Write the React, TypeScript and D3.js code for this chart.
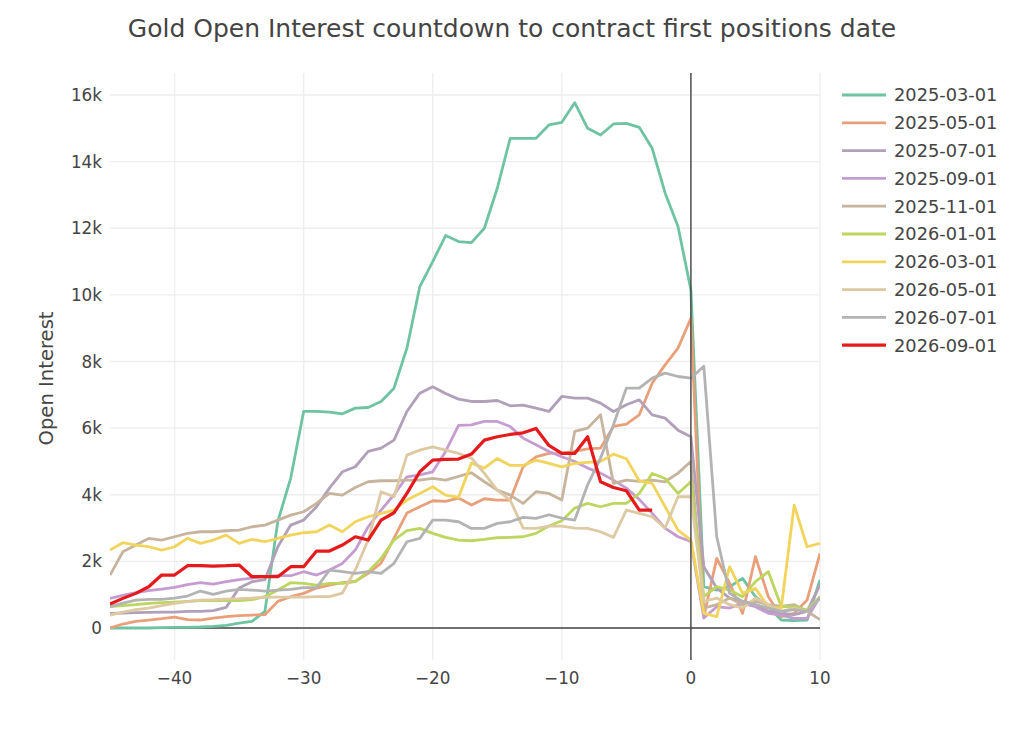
import React from "react";
import * as d3 from "d3";

const days: number[] = d3.range(-45, 11);

const seriesNames = [
  "2025-03-01", "2025-05-01", "2025-07-01", "2025-09-01", "2025-11-01",
  "2026-01-01", "2026-03-01", "2026-05-01", "2026-07-01", "2026-09-01",
];

const seriesColors = [
  "#6ec4a2", "#e9a07a", "#b0a0b8", "#c59ccf", "#c6b49d",
  "#bcd65f", "#f1d45c", "#ddc9a2", "#b3b3b3", "#e41a1c",
];

// values in thousands, days -45 .. 10
const s2025_03 = [
  0, 0, 0, 0, 0.01, 0.02, 0.02, 0.03, 0.05, 0.08, 0.15, 0.2, 0.5, 3.2, 4.5, 6.5, 6.5, 6.48, 6.43, 6.6,
  6.62, 6.8, 7.2, 8.4, 10.25, 11.0, 11.78, 11.6, 11.57, 12.0, 13.2, 14.7, 14.7, 14.7, 15.1, 15.18, 15.77, 15.0, 14.8, 15.13,
  15.15, 15.03, 14.4, 13.06, 12.05, 10.15, 1.24, 1.14, 1.24, 1.49, 0.94, 0.64, 0.24, 0.22, 0.24, 1.44,
];
const s2025_05 = [
  0.0, 0.12, 0.2, 0.24, 0.28, 0.33, 0.25, 0.24, 0.3, 0.34, 0.37, 0.39, 0.4, 0.8, 0.94, 1.04, 1.2, 1.29, 1.36, 1.4,
  1.64, 1.95, 2.7, 3.45, 3.64, 3.82, 3.8, 3.9, 3.69, 3.88, 3.84, 3.84, 4.84, 5.14, 5.24, 5.25, 5.3, 5.38, 5.4, 6.05,
  6.12, 6.4, 7.35, 7.9, 8.4, 9.3, 0.34, 2.09, 1.34, 0.44, 2.14, 0.94, 0.34, 0.44, 0.84, 2.24,
];
const s2025_07 = [
  0.44, 0.45, 0.46, 0.47, 0.48, 0.48, 0.5, 0.5, 0.52, 0.62, 1.2, 1.39, 1.45, 2.44, 3.09, 3.24, 3.64, 4.2, 4.69, 4.84,
  5.3, 5.4, 5.64, 6.5, 7.05, 7.24, 7.04, 6.87, 6.8, 6.8, 6.83, 6.67, 6.69, 6.6, 6.5, 6.95, 6.9, 6.9, 6.75, 6.5,
  6.7, 6.85, 6.4, 6.3, 5.94, 5.74, 1.84, 1.2, 0.9, 0.8, 0.7, 0.5, 0.45, 0.4, 0.5, 1.3,
];
const s2025_09 = [
  0.89, 0.98, 1.06, 1.12, 1.17, 1.22, 1.3, 1.36, 1.32, 1.39, 1.45, 1.5, 1.55, 1.57, 1.57, 1.69, 1.59, 1.74, 1.94, 2.34,
  3.04, 3.54, 4.0, 4.54, 4.6, 4.69, 5.3, 6.08, 6.1, 6.2, 6.2, 6.05, 5.7, 5.5, 5.3, 5.14, 5.0, 4.8, 4.65, 4.44,
  4.2, 3.86, 3.44, 3.0, 2.74, 2.6, 0.3, 0.64, 0.6, 0.74, 0.64, 0.44, 0.39, 0.29, 0.29, 0.94,
];
const s2025_11 = [
  1.59, 2.29, 2.49, 2.69, 2.64, 2.74, 2.84, 2.89, 2.89, 2.92, 2.94, 3.04, 3.09, 3.24, 3.39, 3.49, 3.74, 4.04, 3.99, 4.22,
  4.39, 4.42, 4.42, 4.44, 4.44, 4.49, 4.44, 4.55, 4.66, 4.39, 4.14, 3.99, 3.74, 4.09, 4.04, 3.84, 5.9, 6.0, 6.4, 4.34,
  4.44, 4.4, 4.44, 4.39, 4.65, 5.0, 0.6, 0.7, 0.9, 0.7, 0.8, 0.7, 0.65, 0.7, 0.5, 0.25,
];
const s2026_01 = [
  0.64, 0.67, 0.7, 0.74, 0.76, 0.78, 0.8, 0.82, 0.82, 0.82, 0.82, 0.85, 0.94, 1.14, 1.36, 1.34, 1.29, 1.34, 1.34, 1.39,
  1.69, 2.09, 2.64, 2.92, 2.99, 2.84, 2.72, 2.64, 2.62, 2.66, 2.71, 2.72, 2.74, 2.84, 3.06, 3.22, 3.6, 3.74, 3.64, 3.74,
  3.74, 4.04, 4.64, 4.49, 4.04, 4.39, 0.94, 1.24, 1.14, 0.94, 1.39, 1.69, 0.64, 0.64, 0.54, 0.94,
];
const s2026_03 = [
  2.34, 2.56, 2.49, 2.44, 2.34, 2.44, 2.69, 2.54, 2.64, 2.79, 2.54, 2.66, 2.59, 2.69, 2.79, 2.86, 2.89, 3.09, 2.89, 3.19,
  3.34, 3.44, 3.54, 3.84, 4.04, 4.24, 3.99, 3.92, 4.95, 4.8, 5.09, 4.88, 4.88, 5.04, 4.94, 4.84, 4.94, 4.97, 5.0, 5.22,
  5.08, 4.42, 4.34, 3.64, 2.94, 2.64, 0.44, 0.34, 1.84, 1.04, 1.19, 0.64, 0.6, 3.69, 2.44, 2.54,
];
const s2026_05 = [
  0.39, 0.48, 0.55, 0.6, 0.67, 0.74, 0.79, 0.84, 0.85, 0.87, 0.88, 0.9, 0.92, 0.93, 0.93, 0.93, 0.94, 0.94, 1.05, 1.74,
  2.64, 4.09, 3.94, 5.19, 5.34, 5.44, 5.34, 5.24, 5.1, 4.64, 4.14, 3.84, 3.0, 2.99, 3.06, 3.06, 3.0, 2.99, 2.89, 2.72,
  3.54, 3.44, 3.34, 3.0, 3.94, 3.94, 0.8, 0.9, 0.7, 0.6, 0.9, 0.7, 0.5, 0.6, 0.5, 0.9,
];
const s2026_07 = [
  0.64, 0.75, 0.84, 0.86, 0.86, 0.9, 0.96, 1.11, 1.01, 1.11, 1.16, 1.14, 1.11, 1.14, 1.16, 1.21, 1.21, 1.74, 1.69, 1.64,
  1.69, 1.64, 1.94, 2.59, 2.69, 3.24, 3.24, 3.19, 2.99, 2.99, 3.14, 3.19, 3.32, 3.29, 3.4, 3.3, 3.24, 4.3, 5.1, 6.1,
  7.2, 7.2, 7.5, 7.65, 7.55, 7.5, 7.86, 2.74, 1.04, 0.8, 0.7, 0.6, 0.5, 0.55, 0.5, 0.9,
];
const s2026_09: (number | null)[] = [
  0.72, 0.89, 1.04, 1.24, 1.59, 1.59, 1.87, 1.87, 1.86, 1.87, 1.89, 1.54, 1.54, 1.54, 1.84, 1.84, 2.31, 2.31, 2.49, 2.74,
  2.64, 3.24, 3.46, 4.04, 4.69, 5.04, 5.06, 5.07, 5.22, 5.64, 5.74, 5.81, 5.86, 5.99, 5.48, 5.24, 5.24, 5.74, 4.39, 4.22,
  4.12, 3.54, 3.54, null, null, null, null, null, null, null, null, null, null, null, null, null,
];

const seriesValues: (number | null)[][] = [
  s2025_03, s2025_05, s2025_07, s2025_09, s2025_11, s2026_01, s2026_03, s2026_05, s2026_07, s2026_09,
];

const xTicks = [-40, -30, -20, -10, 0, 10];
const yTicks = [0, 2, 4, 6, 8, 10, 12, 14, 16];

const FONT = "'DejaVu Sans', Verdana, sans-serif";

export default function App() {
  const W = 1024;
  const H = 731;
  const left = 110, right = 820, top = 73, bottom = 660;
  const x = d3.scaleLinear().domain([-45, 10]).range([left, right]);
  const y = d3.scaleLinear().domain([-0.96, 16.66]).range([bottom, top]);

  const line = d3
    .line<number | null>()
    .defined((d) => d !== null)
    .x((_, i) => x(days[i]))
    .y((d) => y(d as number));

  return (
    <svg width={W} height={H} style={{ position: "absolute", left: 0, top: 0, background: "#fff" }} fontFamily={FONT}>
      <rect x={0} y={0} width={W} height={H} fill="#fff" />
      {xTicks.map((t) => (
        <line key={"gx" + t} x1={x(t)} x2={x(t)} y1={top} y2={bottom} stroke="#eee" strokeWidth={1.4} />
      ))}
      {yTicks.map((t) => (
        <line key={"gy" + t} x1={left} x2={right} y1={y(t)} y2={y(t)} stroke="#eee" strokeWidth={1.4} />
      ))}
      <line x1={left} x2={right} y1={y(0)} y2={y(0)} stroke="#444" strokeWidth={1.4} />
      <clipPath id="plotclip">
        <rect x={left} y={top} width={right - left} height={bottom - top} />
      </clipPath>
      <g clipPath="url(#plotclip)">
        {seriesValues.map((vals, i) => (
          <path
            key={seriesNames[i]}
            d={line(vals) || ""}
            fill="none"
            stroke={seriesColors[i]}
            strokeWidth={i === 9 ? 3.2 : 2.8}
            strokeLinejoin="round"
          />
        ))}
      </g>
      <line x1={x(0)} x2={x(0)} y1={top} y2={bottom} stroke="#444" strokeWidth={1.4} />
      {xTicks.map((t) => (
        <text key={"tx" + t} x={x(t)} y={684} textAnchor="middle" fontSize={16.8} fill="#444">
          {t < 0 ? "\u2212" + Math.abs(t) : String(t)}
        </text>
      ))}
      {yTicks.map((t) => (
        <text key={"ty" + t} x={102} y={y(t)} dy="0.36em" textAnchor="end" fontSize={16.8} fill="#444">
          {t === 0 ? "0" : t + "k"}
        </text>
      ))}
      <text x={512} y={37} textAnchor="middle" fontSize={25} fill="#444">
        Gold Open Interest countdown to contract first positions date
      </text>
      <text transform={`translate(53, ${(top + bottom) / 2 + 12}) rotate(-90)`} textAnchor="middle" fontSize={19.6} fill="#444">
        Open Interest
      </text>
      {seriesNames.map((n, i) => {
        const ly = 95 + i * 27.8;
        return (
          <g key={"lg" + n}>
            <line x1={842} x2={886} y1={ly} y2={ly} stroke={seriesColors[i]} strokeWidth={i === 9 ? 3.2 : 2.8} />
            <text x={894} y={ly} dy="0.36em" fontSize={17.8} fill="#444">
              {n}
            </text>
          </g>
        );
      })}
    </svg>
  );
}
